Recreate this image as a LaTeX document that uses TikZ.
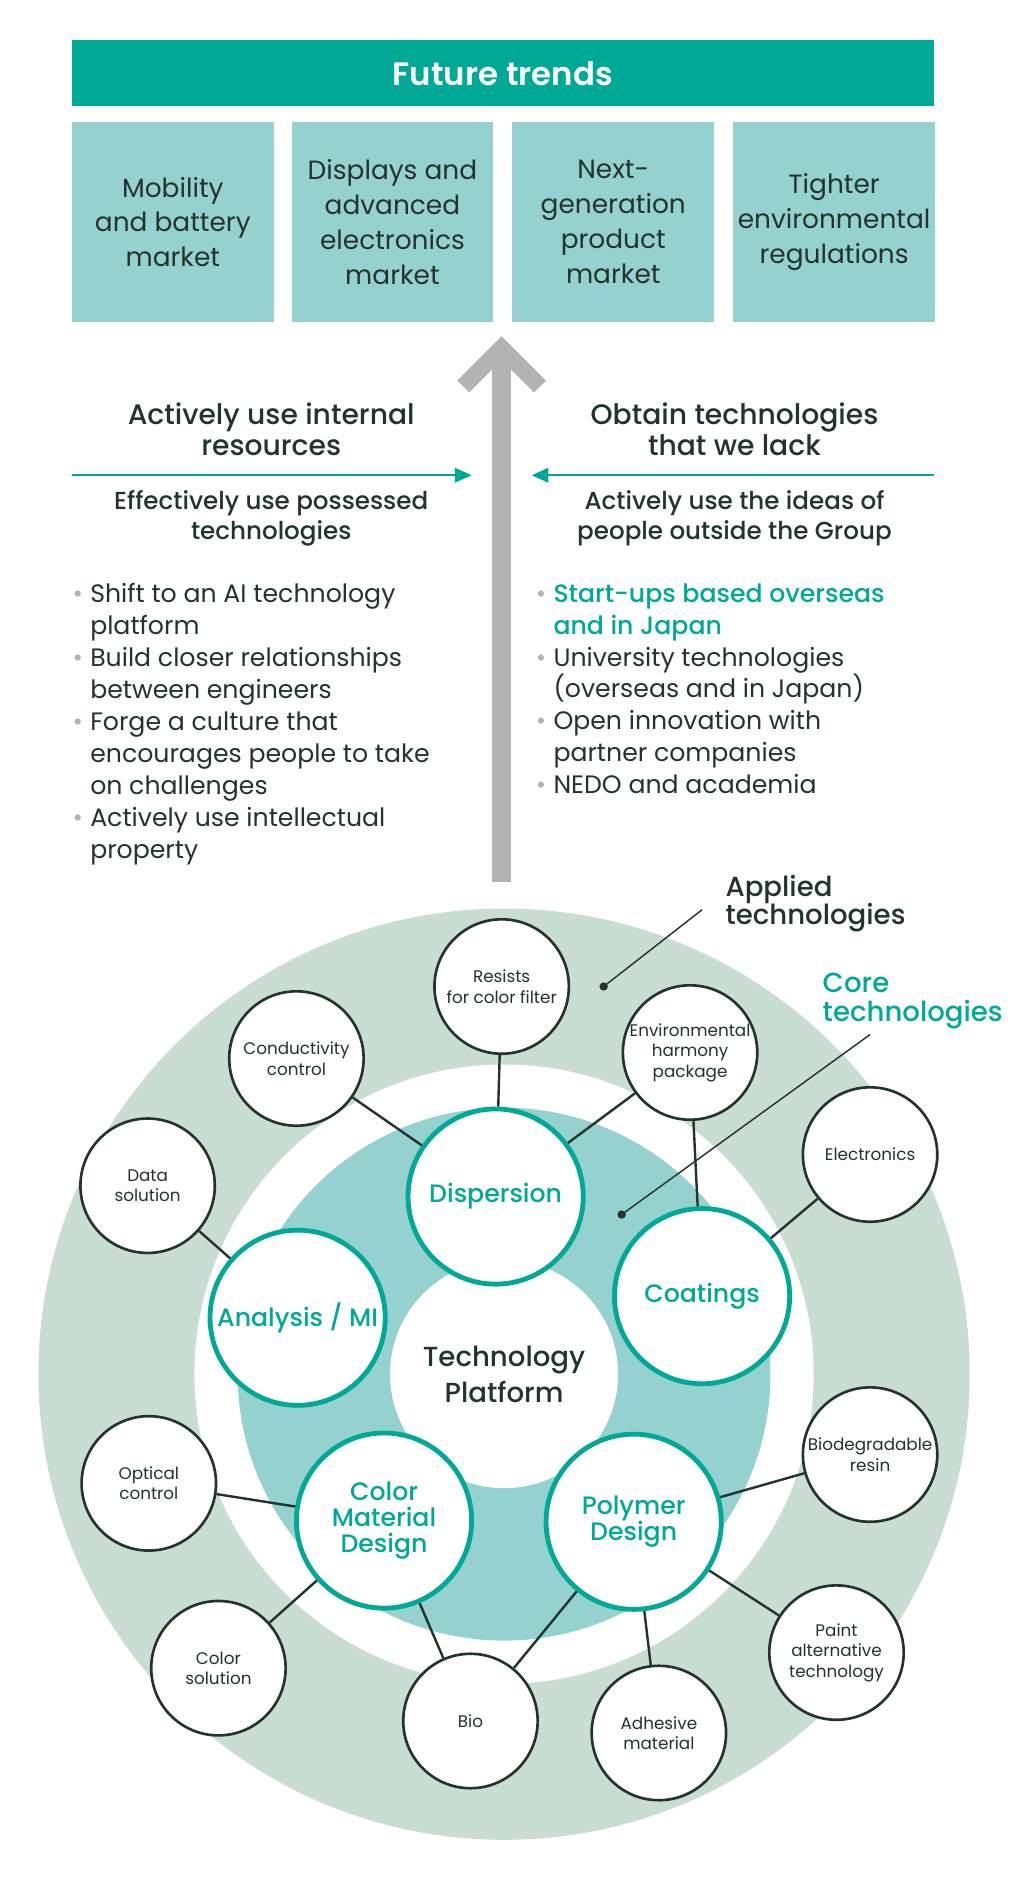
\documentclass[tikz,border=0pt]{standalone}
\usepackage{fontspec}
\setmainfont{Poppins}
\newfontfamily\medium{Poppins Medium}
\newfontfamily\semibold{Poppins SemiBold}
\usetikzlibrary{arrows.meta}
\definecolor{teal1}{HTML}{00A896}
\definecolor{teal2}{HTML}{95D1CE}
\definecolor{sage}{HTML}{C9DDD3}
\definecolor{ink}{HTML}{23332E}
\definecolor{arrowgray}{HTML}{B3B3B3}
\tikzset{
  trendbox/.style={fill=teal2,text=ink,minimum width=168pt,minimum height=166pt,align=center,font=\fontsize{22}{29}\selectfont,inner sep=0pt},
  corenode/.style={circle,draw=teal1,line width=4pt,fill=white,minimum size=146pt,align=center,text=teal1,font=\fontsize{21}{22}\selectfont\medium,inner sep=0pt},
  appnode/.style={circle,draw=ink,line width=2.2pt,fill=white,minimum size=112pt,align=center,text=ink,font=\fontsize{14}{17}\selectfont,inner sep=0pt},
  link/.style={draw=ink,line width=2pt},
  heading/.style={align=center,text=ink,font=\fontsize{23.5}{26}\selectfont\medium},
  subheading/.style={align=center,text=ink,font=\fontsize{20.5}{25}\selectfont\medium},
  bulletlist/.style={anchor=north west,align=left,text=ink,font=\fontsize{21}{26.6}\selectfont,inner sep=0pt}
}
\newcommand{\bul}{\llap{\textcolor{arrowgray}{\textbullet}\hspace{6pt}}}
\begin{document}
\begin{tikzpicture}[x=1pt,y=-1pt]
\useasboundingbox (0,0) rectangle (850,1574);
% header and trends
\node[fill=teal1,minimum width=718pt,minimum height=55pt,text=white,font=\fontsize{27}{30}\selectfont\semibold] (trends) at (419,61) {Future trends};
\node[trendbox] (mobility) at (144,185) {Mobility\\and battery\\market};
\node[trendbox] (displays) at (327,185) {Displays and\\advanced\\electronics\\market};
\node[trendbox] (nextgen) at (511,185) {Next-\\generation\\product\\market};
\node[trendbox] (regs) at (695,185) {Tighter\\environmental\\regulations};
% big gray arrow
\coordinate (arrbase) at (418,735);
\coordinate (arrtip) at (418,290);
\draw[arrowgray,line width=16pt] (arrbase) -- (418,300);
\draw[arrowgray,line width=14pt,line join=miter] (386,322) -- (arrtip) -- (450,322);
% left column
\node[heading] (internal) at (226,358) {Actively use internal\\resources};
\coordinate (lstart) at (60,396);
\coordinate (lend) at (393,396);
\draw[teal1,line width=2pt,-{Triangle[length=14pt,width=12pt]}] (lstart) -- (lend);
\node[subheading] (possessed) at (226,432) {Effectively use possessed\\technologies};
\node[bulletlist] (leftlist) at (75,486) {\bul Shift to an AI technology\\platform\\\bul Build closer relationships\\between engineers\\\bul Forge a culture that\\encourages people to take\\on challenges\\\bul Actively use intellectual\\property};
% right column
\node[heading] (obtain) at (612,358) {Obtain technologies\\that we lack};
\coordinate (rstart) at (778,396);
\coordinate (rend) at (443,396);
\draw[teal1,line width=2pt,-{Triangle[length=14pt,width=12pt]}] (rstart) -- (rend);
\node[subheading] (ideas) at (612,432) {Actively use the ideas of\\people outside the Group};
\node[bulletlist] (rightlist) at (461,486) {\bul\textcolor{teal1}{\medium Start-ups based overseas}\\\textcolor{teal1}{\medium and in Japan}\\\bul University technologies\\(overseas and in Japan)\\\bul Open innovation with\\partner companies\\\bul NEDO and academia};
% rings
\fill[sage] (420,1145) circle (388);
\fill[white] (420,1145) circle (258);
\fill[teal2] (420,1145) circle (222);
\node[circle,fill=white,minimum size=190pt,align=center,text=ink,font=\fontsize{23}{30}\selectfont\medium] (platform) at (420,1145) {Technology\\Platform};
% applied technologies
\node[appnode] (resists) at (418,822) {Resists\\for color filter};
\node[appnode] (envpack) at (575,877) {Environmental\\harmony\\package};
\node[appnode] (conduct) at (247,882) {Conductivity\\control};
\node[appnode] (electro) at (725,962) {Electronics};
\node[appnode] (datasol) at (123,988) {Data\\solution};
\node[appnode] (biodeg) at (725,1212) {Biodegradable\\resin};
\node[appnode] (optical) at (124,1236) {Optical\\control};
\node[appnode] (paint) at (697,1377) {Paint\\alternative\\technology};
\node[appnode] (colsol) at (182,1390) {Color\\solution};
\node[appnode] (bio) at (392,1434) {Bio};
\node[appnode] (adhesive) at (549,1444) {Adhesive\\material};
% core technologies
\node[corenode] (dispersion) at (413,997) {Dispersion};
\node[corenode] (coatings) at (585,1080) {Coatings};
\node[corenode] (analysis) at (248,1098) {Analysis / MI};
\node[corenode] (colmat) at (320,1267) {Color\\Material\\Design};
\node[corenode] (polymer) at (528,1268) {Polymer\\Design};
% connectors
\draw[link] (resists) -- (dispersion);
\draw[link] (envpack) -- (dispersion);
\draw[link] (envpack) -- (coatings);
\draw[link] (conduct) -- (dispersion);
\draw[link] (electro) -- (coatings);
\draw[link] (datasol) -- (analysis);
\draw[link] (optical) -- (colmat);
\draw[link] (colsol) -- (colmat);
\draw[link] (bio) -- (colmat);
\draw[link] (bio) -- (polymer);
\draw[link] (adhesive) -- (polymer);
\draw[link] (biodeg) -- (polymer);
\draw[link] (paint) -- (polymer);
% callouts
\node[anchor=west,align=left,text=ink,font=\fontsize{23}{24}\selectfont\medium] (appliedlbl) at (601,753) {Applied\\technologies};
\coordinate (applieddot) at (503,822);
\draw[ink,line width=1.2pt] (585,758) -- (applieddot);
\fill[ink] (applieddot) circle (3.5);
\node[anchor=west,align=left,text=teal1,font=\fontsize{23}{24}\selectfont\medium] (corelbl) at (682,834) {Core\\technologies};
\coordinate (coredot) at (518,1012);
\draw[ink,line width=1.2pt] (725,862) -- (coredot);
\fill[ink] (coredot) circle (3.5);
\end{tikzpicture}
\end{document}
